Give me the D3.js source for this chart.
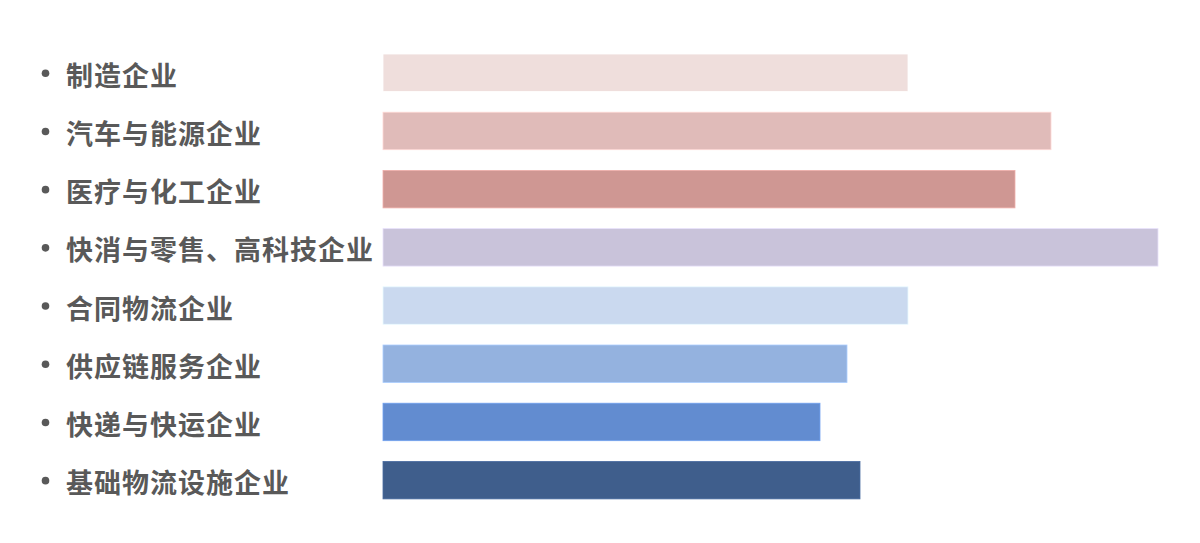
<!DOCTYPE html>
<html>
<head>
<meta charset="utf-8">
<script src="https://cdn.jsdelivr.net/npm/d3@7"></script>
<style>
html,body{margin:0;padding:0;background:#fff;}
svg{display:block;}
</style>
</head>
<body>
<svg id="chart" width="1200" height="543"></svg>
<script>
const categories = ["制造企业","汽车与能源企业","医疗与化工企业","快消与零售、高科技企业","合同物流企业","供应链服务企业","快递与快运企业","基础物流设施企业"];
const values = [525, 668, 632, 775, 525, 464, 437, 477];
const colors = ["#EFDEDC","#E0BBB9","#CF9793","#C9C3DA","#CAD9EF","#94B2DF","#628CD0","#3F5E8C"];

const svg = d3.select("#chart");
const x = d3.scaleLinear().domain([0, 775]).range([383, 1158]);
const y = d3.scaleBand().domain(categories).range([43.65, 509.25]).paddingInner(0.356).paddingOuter(0.178);

svg.selectAll("rect.bar").data(categories).join("rect")
  .attr("class","bar")
  .attr("x", x(0))
  .attr("y", d => y(d))
  .attr("width", (d,i) => x(values[i]) - x(0))
  .attr("height", y.bandwidth())
  .attr("fill", (d,i) => colors[i])
  .attr("stroke", (d,i) => d3.color(colors[i]).brighter(0.4))
  .attr("stroke-width", 0.8);

svg.selectAll("circle.bullet").data(categories).join("circle")
  .attr("class","bullet")
  .attr("cx", 45.5)
  .attr("cy", d => y(d) + y.bandwidth()/2 + 0.5)
  .attr("r", 3.8)
  .attr("fill", "#595959");

svg.selectAll("text.label").data(categories).join("text")
  .attr("class","label")
  .attr("x", 66)
  .attr("y", d => y(d) + y.bandwidth()/2 + 1.5)
  .attr("dominant-baseline","central")
  .attr("font-family","'Noto Sans CJK SC','Noto Sans',sans-serif")
  .attr("font-weight","bold")
  .attr("font-size", 27)
  .attr("letter-spacing", 1)
  .attr("fill","#595959")
  .text(d => d);
</script>
</body>
</html>
